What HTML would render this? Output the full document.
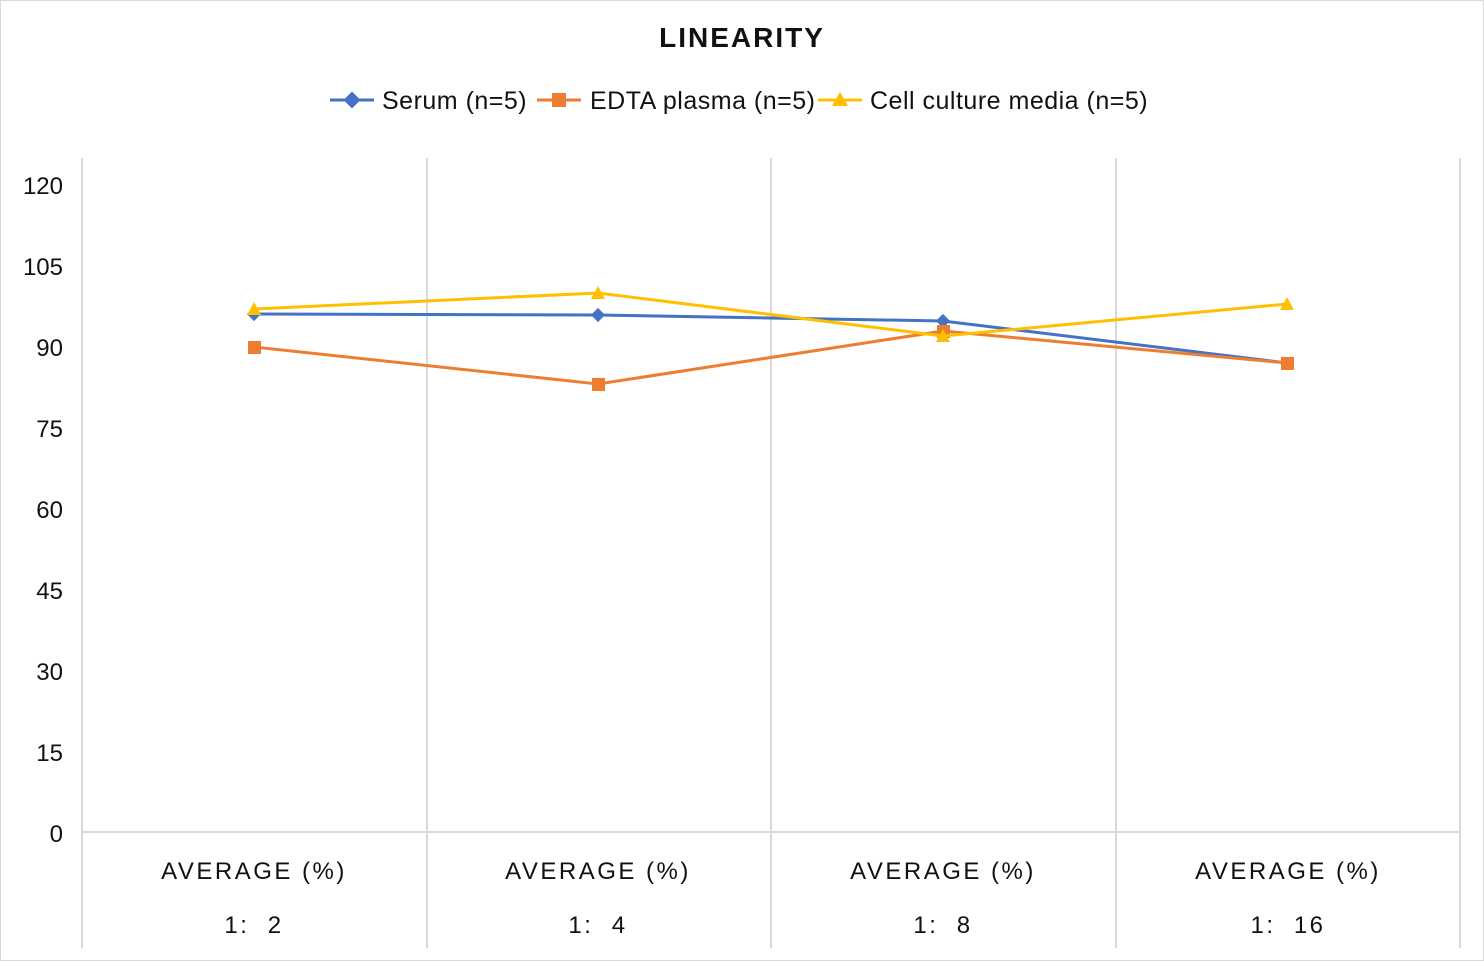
<!DOCTYPE html>
<html><head><meta charset="utf-8"><style>
html,body{margin:0;padding:0;background:#fff;}
svg{display:block;font-family:"Liberation Sans",sans-serif;}
</style></head><body>
<svg width="1484" height="961" viewBox="0 0 1484 961">
<rect x="0.5" y="0.5" width="1483" height="960" fill="#fff" stroke="#d9d9d9"/>
<text x="742" y="47" text-anchor="middle" font-size="28" font-weight="bold" letter-spacing="2" fill="#111">LINEARITY</text>
<!-- legend -->
<g font-size="25" fill="#111" letter-spacing="0.5">
<line x1="330" y1="100" x2="374" y2="100" stroke="#4472c4" stroke-width="3"/>
<rect x="346" y="94" width="12" height="12" fill="#4472c4" transform="rotate(45 352 100)"/>
<text x="382" y="109">Serum (n=5)</text>
<line x1="537" y1="100" x2="581" y2="100" stroke="#ed7d31" stroke-width="3"/>
<rect x="552" y="93" width="14" height="14" fill="#ed7d31"/>
<text x="590" y="109">EDTA plasma (n=5)</text>
<line x1="818" y1="100" x2="862" y2="100" stroke="#ffc000" stroke-width="3"/>
<polygon points="840,92 848,106 832,106" fill="#ffc000"/>
<text x="870" y="109">Cell culture media (n=5)</text>
</g>
<!-- grid -->
<g stroke="#d9d9d9" stroke-width="2">
<line x1="82" y1="158" x2="82" y2="948"/>
<line x1="427" y1="158" x2="427" y2="948"/>
<line x1="771" y1="158" x2="771" y2="948"/>
<line x1="1116" y1="158" x2="1116" y2="948"/>
<line x1="1460" y1="158" x2="1460" y2="948"/>
<line x1="82" y1="832" x2="1460" y2="832"/>
</g>
<g font-size="24" fill="#111" text-anchor="end">
<text x="63" y="194">120</text><text x="63" y="275">105</text><text x="63" y="356">90</text>
<text x="63" y="437">75</text><text x="63" y="518">60</text><text x="63" y="599">45</text>
<text x="63" y="680">30</text><text x="63" y="761">15</text><text x="63" y="842">0</text>
</g>
<g font-size="24" fill="#111" text-anchor="middle" letter-spacing="2.5">
<text x="254" y="879">AVERAGE (%)</text><text x="598" y="879">AVERAGE (%)</text>
<text x="943" y="879">AVERAGE (%)</text><text x="1288" y="879">AVERAGE (%)</text>
<text x="254" y="933" xml:space="preserve">1:  2</text><text x="598" y="933" xml:space="preserve">1:  4</text>
<text x="943" y="933" xml:space="preserve">1:  8</text><text x="1288" y="933" xml:space="preserve">1:  16</text>
</g>
<!-- series -->
<polyline points="254,314 598,315 943,321 1287,363" fill="none" stroke="#4472c4" stroke-width="3"/>
<g fill="#4472c4">
<rect x="249" y="309" width="10" height="10" transform="rotate(45 254 314)"/>
<rect x="593" y="310" width="10" height="10" transform="rotate(45 598 315)"/>
<rect x="938" y="316" width="10" height="10" transform="rotate(45 943 321)"/>
</g>
<polyline points="254,347 598,384 943,331 1287,363" fill="none" stroke="#ed7d31" stroke-width="3"/>
<g fill="#ed7d31">
<rect x="248" y="341" width="13" height="13"/><rect x="592" y="378" width="13" height="13"/>
<rect x="937" y="325" width="13" height="13"/><rect x="1281" y="357" width="13" height="13"/>
</g>
<polyline points="254,309 598,293 943,336 1287,304" fill="none" stroke="#ffc000" stroke-width="3"/>
<g fill="#ffc000">
<polygon points="254,302 261,315 247,315"/><polygon points="598,286 605,299 591,299"/>
<polygon points="943,329 950,342 936,342"/><polygon points="1287,297 1294,310 1280,310"/>
</g>
</svg>
</body></html>
